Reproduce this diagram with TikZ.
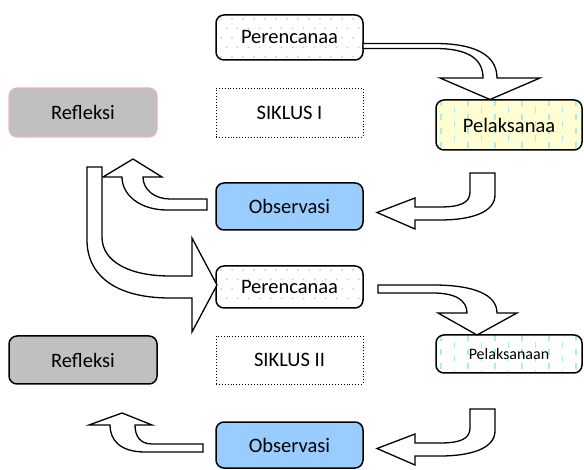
\documentclass[tikz,border=0pt]{standalone}
\usepackage{fontspec}
\setmainfont{Carlito}
\usetikzlibrary{calc}
\definecolor{obsblue}{HTML}{99CCFF}
\definecolor{refgray}{HTML}{C0C0C0}
\definecolor{pelyellow}{HTML}{FFFFD2}
\definecolor{dashcyan}{HTML}{A8ECF4}
\definecolor{pinkline}{HTML}{E8B8B8}
\newcommand{\bigfs}{\fontsize{20.5}{24}\selectfont}
\newcommand{\smallfs}{\fontsize{16}{19}\selectfont}
\tikzset{
  box/.style={rounded corners=8pt, draw=black, line width=1.5pt, minimum width=147pt,
    minimum height=45pt, inner sep=0pt, font=\bigfs},
  dotbox/.style={box, fill=white, path picture={
    \foreach \j in {0,...,5}{\foreach \i in {0,...,13}{
      \pgfmathsetmacro\dx{\i*11+5+mod(\j,2)*5.5}
      \pgfmathsetmacro\dy{\j*9.5+4}
      \fill[black!20] ([shift={(\dx pt,-\dy pt)}]path picture bounding box.north west) circle (1pt);}}}},
  dashbox/.style={box, path picture={
    \foreach \i in {0,...,11}{
      \pgfmathsetmacro\dx{\i*13.5+5}
      \pgfmathsetmacro\ph{mod(\i,2)*7}
      \draw[dashcyan, line width=1.3pt, dash pattern=on 6pt off 8pt, dash phase=\ph pt]
        ([xshift=\dx pt]path picture bounding box.north west) --
        ([xshift=\dx pt]path picture bounding box.south west);}}},
  siklus/.style={draw=black, dotted, line width=0.9pt, minimum width=147pt, minimum height=49pt,
    inner sep=0pt, font=\bigfs},
  blockarrow/.style={draw=black, fill=white, line width=1.3pt, line join=miter}
}
\begin{document}
\begin{tikzpicture}[x=1pt,y=-1pt]
\useasboundingbox (0,0) rectangle (584,470);
% nodes
\node[dotbox] (p1) at (289.5,37.5) {Perencanaa};
\node[dashbox, fill=pelyellow, minimum width=146pt, minimum height=50pt] (pel1) at (509,125) {Pelaksanaa};
\node[box, fill=refgray, draw=pinkline, line width=1.2pt, minimum width=148pt, minimum height=49pt] (r1) at (83,112.5) {Refleksi};
\node[siklus] (s1) at (289.5,112.5) {SIKLUS I};
\node[box, fill=obsblue, minimum height=47pt] (o1) at (289.5,206.5) {Observasi};
\node[dotbox, minimum height=42pt] (p2) at (289.5,287) {Perencanaa};
\node[dashbox, fill=white, minimum width=146pt, minimum height=38pt, font=\smallfs] (pel2) at (509,354) {Pelaksanaan};
\node[box, fill=refgray, minimum width=148pt, minimum height=48pt] (r2) at (83,360) {Refleksi};
\node[siklus, minimum height=48pt] (s2) at (289.5,360) {SIKLUS II};
\node[box, fill=obsblue, minimum height=46pt] (o2) at (289.5,445) {Observasi};
% arrow 1: Perencanaa -> Pelaksanaa
\draw[blockarrow] (363,43.5) -- (435,43.5) .. controls (475,43.5) and (497,55) .. (497,78)
  -- (540,78) -- (490,99.5) -- (440,78) -- (483,78) .. controls (483,60) and (470,48.5) .. (435,48.5)
  -- (363,48.5) -- cycle;
% arrow 2: Pelaksanaa -> Observasi
\draw[blockarrow] (470,173) -- (495,173) -- (495,195) .. controls (495,212) and (472,220) .. (440,220)
  -- (415,220) -- (415,229) -- (377,212.5) -- (415,198) -- (415,207) -- (440,207)
  .. controls (460,207) and (470,203) .. (470,192) -- cycle;
% arrow 3: Observasi -> Refleksi
\draw[blockarrow] (207,199) -- (207,210) -- (167,210) .. controls (140,210) and (122,195) .. (122,177)
  -- (103,177) -- (133,159) -- (162,177) -- (143,177) .. controls (143,190) and (155,199) .. (170,199) -- cycle;
% arrow 4: Refleksi -> Perencanaa (cycle II)
\draw[blockarrow] (87,167) -- (102,167) -- (102,237) .. controls (102,262) and (130,276) .. (170,276)
  -- (192,276) -- (192,238) -- (217,285) -- (192,332) -- (192,298) -- (170,298)
  .. controls (115,298) and (87,275) .. (87,240) -- cycle;
% arrow 5: Perencanaa -> Pelaksanaan
\draw[blockarrow] (378,285) -- (433,285) .. controls (475,285) and (497,295) .. (497,313)
  -- (517,313) -- (477,335) -- (438,313) -- (467,313) .. controls (467,300) and (455,293) .. (433,293)
  -- (378,293) -- cycle;
% arrow 6: Pelaksanaan -> Observasi
\draw[blockarrow] (470,409) -- (495,409) -- (495,431) .. controls (495,448) and (472,456) .. (440,456)
  -- (415,456) -- (415,465) -- (377,448.5) -- (415,434) -- (415,443) -- (440,443)
  .. controls (460,443) and (470,439) .. (470,428) -- cycle;
% arrow 7: Observasi -> Refleksi
\draw[blockarrow] (203,444) -- (203,452) -- (145,452) .. controls (120,452) and (110,440) .. (110,425)
  -- (89,425) -- (122,413) -- (152,425) -- (135,425) .. controls (135,436) and (140,444) .. (152,444) -- cycle;
\end{tikzpicture}
\end{document}
